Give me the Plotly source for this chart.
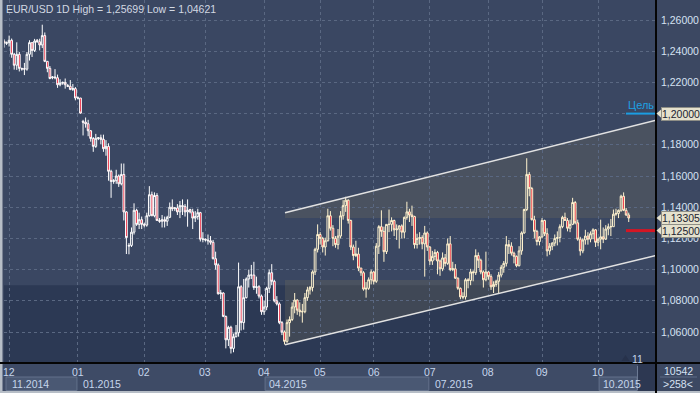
import plotly.graph_objects as go

# ---------------- data (daily EUR/USD bars, Nov 28 2014 .. Oct 19 2015) ----------------
opens = [
    # Nov 28 .. Dec 31
    1.2465, 1.2450, 1.2455, 1.2470, 1.2380, 1.2310, 1.2380, 1.2285, 1.2288, 1.2285, 1.2380, 1.2455, 1.2405, 1.2470, 1.2460,
    1.2440, 1.2500, 1.2335, 1.2290, 1.2230, 1.2235, 1.2230, 1.2185, 1.2195, 1.2200, 1.2180, 1.2175, 1.2155, 1.2160,
    # Jan
    1.2100, 1.2100, 1.1950, 1.1945, 1.1935, 1.1890, 1.1840, 1.1790, 1.1840, 1.1845, 1.1835, 1.1775, 1.1790, 1.1630, 1.1565,
    1.1570, 1.1600, 1.1550, 1.1610, 1.1370, 1.1150, 1.1155, 1.1240, 1.1380, 1.1290, 1.1320,
    # Feb
    1.1290, 1.1285, 1.1345, 1.1480, 1.1345, 1.1475, 1.1315, 1.1310, 1.1320, 1.1310, 1.1335, 1.1400, 1.1390, 1.1395, 1.1370,
    1.1410, 1.1405, 1.1370, 1.1385, 1.1370, 1.1330, 1.1340, 1.1365, 1.1195,
    # Mar
    1.1195, 1.1190, 1.1185, 1.1175, 1.1070, 1.1030, 1.0845, 1.0850, 1.0700, 1.0550, 1.0630, 1.0495, 1.0570, 1.0595, 1.0890,
    1.0660, 1.0820, 1.0940, 1.0965, 1.0965, 1.0885, 1.0890, 1.0830,
    # Apr
    1.0730, 1.0760, 1.0880, 1.0980, 1.0925, 1.0800, 1.0780, 1.0660, 1.0600, 1.0540, 1.0660, 1.0680, 1.0760, 1.0805, 1.0740,
    1.0730, 1.0730, 1.0820, 1.0870, 1.0885, 1.0985, 1.1130,
    # May
    1.1225, 1.1200, 1.1145, 1.1185, 1.1345, 1.1265, 1.1200, 1.1160, 1.1215, 1.1345, 1.1410, 1.1445, 1.1315, 1.1145, 1.1090,
    1.1100, 1.1010, 1.0980, 1.0875, 1.0880, 1.0935,
    # Jun
    1.0985, 1.0925, 1.1150, 1.1275, 1.1245, 1.1115, 1.1290, 1.1290, 1.1315, 1.1255, 1.1260, 1.1280, 1.1240, 1.1335, 1.1370,
    1.1350, 1.1340, 1.1160, 1.1200, 1.1205, 1.1165, 1.1235,
    # Jul
    1.1145, 1.1055, 1.1085, 1.1110, 1.1055, 1.1005, 1.1075, 1.1040, 1.1165, 1.1000, 1.1005, 1.0945, 1.0880, 1.0825, 1.0825,
    1.0935, 1.0930, 1.0985, 1.0980, 1.1090, 1.1060, 1.0985, 1.0935,
    # Aug
    1.0985, 1.0955, 1.0890, 1.0905, 1.0925, 1.0965, 1.1015, 1.1040, 1.1160, 1.1150, 1.1105, 1.1085, 1.1025, 1.1120, 1.1235,
    1.1385, 1.1610, 1.1520, 1.1320, 1.1245, 1.1180,
    # Sep
    1.1210, 1.1315, 1.1230, 1.1120, 1.1150, 1.1170, 1.1200, 1.1205, 1.1275, 1.1335, 1.1315, 1.1265, 1.1290, 1.1430, 1.1300,
    1.1195, 1.1120, 1.1190, 1.1215, 1.1195, 1.1230, 1.1255,
    # Oct
    1.1175, 1.1195, 1.1210, 1.1195, 1.1260, 1.1275, 1.1275, 1.1355, 1.1360, 1.1380, 1.1470, 1.1380, 1.1350,
]
highs = [
    1.2477, 1.2462, 1.2500, 1.2481, 1.2389, 1.2457, 1.2395, 1.2295, 1.2325, 1.2395, 1.2470, 1.2455, 1.2479, 1.2478, 1.2480,
    1.25699, 1.2520, 1.2335, 1.2305, 1.2240, 1.2285, 1.2250, 1.2220, 1.2205, 1.2225, 1.2190, 1.2215, 1.2190, 1.2170,
    1.2110, 1.2100, 1.1960, 1.1975, 1.1960, 1.1895, 1.1850, 1.1870, 1.1850, 1.1865, 1.1865, 1.1830, 1.1810, 1.1640, 1.1580,
    1.1640, 1.1610, 1.1680, 1.1680, 1.1375, 1.1170, 1.1270, 1.1425, 1.1390, 1.1365, 1.1340,
    1.1300, 1.1365, 1.1535, 1.1500, 1.1495, 1.1490, 1.1330, 1.1350, 1.1340, 1.1345, 1.1430, 1.1450, 1.1400, 1.1420, 1.1440,
    1.1450, 1.1420, 1.1450, 1.1390, 1.1390, 1.1375, 1.1390, 1.1370, 1.1240,
    1.1200, 1.1225, 1.1215, 1.1190, 1.1115, 1.1040, 1.0870, 1.0855, 1.0705, 1.0640, 1.0640, 1.0590, 1.0645, 1.1045, 1.0900,
    1.0940, 1.0950, 1.1000, 1.1030, 1.1050, 1.0955, 1.0900, 1.0840,
    1.0800, 1.0890, 1.1000, 1.1035, 1.0935, 1.0830, 1.0790, 1.0670, 1.0610, 1.0680, 1.0700, 1.0790, 1.0850, 1.0810, 1.0790,
    1.0780, 1.0850, 1.0890, 1.0895, 1.0995, 1.1140, 1.1290,
    1.1240, 1.1210, 1.1205, 1.1390, 1.1375, 1.1285, 1.1215, 1.1260, 1.1375, 1.1445, 1.1467, 1.1450, 1.1320, 1.1160, 1.1185,
    1.1140, 1.1010, 1.0990, 1.0920, 1.0950, 1.1000,
    1.0990, 1.1170, 1.1285, 1.1380, 1.1275, 1.1290, 1.1385, 1.1335, 1.1320, 1.1290, 1.1285, 1.1290, 1.1340, 1.1435, 1.1390,
    1.1410, 1.1345, 1.1230, 1.1240, 1.1220, 1.1280, 1.1245,
    1.1150, 1.1120, 1.1130, 1.1120, 1.1065, 1.1110, 1.1100, 1.1200, 1.1215, 1.1050, 1.1035, 1.0950, 1.0885, 1.0855, 1.0945,
    1.0945, 1.1005, 1.0995, 1.1130, 1.1110, 1.1070, 1.0995, 1.1115,
    1.0990, 1.0970, 1.0925, 1.0935, 1.0985, 1.1030, 1.1055, 1.1215, 1.1190, 1.1175, 1.1115, 1.1090, 1.1150, 1.1245, 1.1390,
    1.1714, 1.1625, 1.1530, 1.1345, 1.1255, 1.1215,
    1.1330, 1.1320, 1.1265, 1.1170, 1.1175, 1.1225, 1.1245, 1.1290, 1.1345, 1.1365, 1.1330, 1.1320, 1.1460, 1.1440, 1.1320,
    1.1210, 1.1200, 1.1255, 1.1240, 1.1245, 1.1265, 1.1260,
    1.1205, 1.1320, 1.1270, 1.1285, 1.1295, 1.1325, 1.1385, 1.1390, 1.1385, 1.1480, 1.1495, 1.1395, 1.1365,
]
lows = [
    1.2423, 1.2440, 1.2430, 1.2358, 1.2282, 1.2280, 1.2270, 1.2275, 1.2247, 1.2275, 1.2340, 1.2363, 1.2395, 1.2455, 1.2405,
    1.2420, 1.2330, 1.2265, 1.2220, 1.2220, 1.2220, 1.2165, 1.2175, 1.2185, 1.2160, 1.2170, 1.2150, 1.2145, 1.2085,
    1.2090, 1.2000, 1.1860, 1.1910, 1.1855, 1.1820, 1.1755, 1.1780, 1.1830, 1.1805, 1.1755, 1.1730, 1.1570, 1.1460, 1.1550,
    1.1550, 1.1530, 1.1540, 1.1315, 1.1100, 1.1098, 1.1145, 1.1225, 1.1280, 1.1260, 1.1260,
    1.1270, 1.1275, 1.1340, 1.1345, 1.1335, 1.1315, 1.1300, 1.1270, 1.1270, 1.1280, 1.1330, 1.1375, 1.1375, 1.1350, 1.1330,
    1.1350, 1.1340, 1.1275, 1.1360, 1.1260, 1.1305, 1.1320, 1.1180, 1.1175,
    1.1180, 1.1160, 1.1160, 1.1065, 1.1000, 1.0840, 1.0810, 1.0695, 1.0495, 1.0510, 1.04621, 1.0470, 1.0565, 1.0570, 1.0610,
    1.0615, 1.0815, 1.0885, 1.0940, 1.0870, 1.0845, 1.0815, 1.0710,
    1.0710, 1.0740, 1.0850, 1.0900, 1.0790, 1.0770, 1.0650, 1.0580, 1.0520, 1.0530, 1.0570, 1.0670, 1.0720, 1.0710, 1.0700,
    1.0660, 1.0720, 1.0800, 1.0840, 1.0860, 1.0965, 1.1110,
    1.1160, 1.1110, 1.1090, 1.1180, 1.1250, 1.1150, 1.1140, 1.1130, 1.1200, 1.1320, 1.1370, 1.1295, 1.1125, 1.1060, 1.1080,
    1.0990, 1.0960, 1.0865, 1.0820, 1.0870, 1.0905,
    1.0905, 1.0915, 1.1100, 1.1210, 1.1050, 1.1100, 1.1240, 1.1245, 1.1215, 1.1190, 1.1135, 1.1200, 1.1200, 1.1320, 1.1305,
    1.1280, 1.1135, 1.1135, 1.1160, 1.1130, 1.0955, 1.1120,
    1.1030, 1.1030, 1.1060, 1.0970, 1.0960, 1.0990, 1.1020, 1.1030, 1.0990, 1.0990, 1.0940, 1.0870, 1.0810, 1.0810, 1.0808,
    1.0880, 1.0900, 1.0925, 1.0965, 1.1010, 1.0970, 1.0885, 1.0925,
    1.0935, 1.0870, 1.0850, 1.0890, 1.0850, 1.0950, 1.0980, 1.1020, 1.1100, 1.1090, 1.1040, 1.1015, 1.1020, 1.1095, 1.1230,
    1.1375, 1.1470, 1.1315, 1.1200, 1.1155, 1.1155,
    1.1200, 1.1215, 1.1085, 1.1095, 1.1125, 1.1150, 1.1155, 1.1175, 1.1265, 1.1315, 1.1245, 1.1240, 1.1285, 1.1290, 1.1185,
    1.1090, 1.1105, 1.1160, 1.1160, 1.1175, 1.1195, 1.1145,
    1.1150, 1.1130, 1.1170, 1.1190, 1.1220, 1.1215, 1.1275, 1.1345, 1.1330, 1.1370, 1.1375, 1.1345, 1.1305,
]
closes = [
    1.2453, 1.2455, 1.2470, 1.2380, 1.2310, 1.2380, 1.2290, 1.2288, 1.2285, 1.2380, 1.2455, 1.2405, 1.2465, 1.2460, 1.2440,
    1.2500, 1.2335, 1.2290, 1.2225, 1.2235, 1.2230, 1.2185, 1.2195, 1.2200, 1.2185, 1.2175, 1.2155, 1.2160, 1.2100,
    1.2100, 1.2003, 1.1945, 1.1935, 1.1890, 1.1840, 1.1790, 1.1842, 1.1845, 1.1835, 1.1775, 1.1790, 1.1630, 1.1565, 1.1570,
    1.1600, 1.1550, 1.1610, 1.1370, 1.1205, 1.1155, 1.1240, 1.1380, 1.1290, 1.1320, 1.1290,
    1.1285, 1.1345, 1.1480, 1.1345, 1.1475, 1.1315, 1.1310, 1.1320, 1.1310, 1.1335, 1.1400, 1.1390, 1.1395, 1.1370, 1.1410,
    1.1405, 1.1370, 1.1380, 1.1370, 1.1330, 1.1340, 1.1365, 1.1195, 1.1195,
    1.1190, 1.1185, 1.1175, 1.1070, 1.1030, 1.0845, 1.0850, 1.0700, 1.0550, 1.0630, 1.0495, 1.0570, 1.0595, 1.0890, 1.0660,
    1.0820, 1.0940, 1.0965, 1.0965, 1.0885, 1.0890, 1.0830, 1.0730,
    1.0760, 1.0880, 1.0980, 1.0925, 1.0800, 1.0780, 1.0660, 1.0600, 1.0540, 1.0660, 1.0680, 1.0760, 1.0805, 1.0740, 1.0730,
    1.0730, 1.0820, 1.0870, 1.0885, 1.0985, 1.1130, 1.1225,
    1.1200, 1.1145, 1.1185, 1.1345, 1.1265, 1.1200, 1.1160, 1.1215, 1.1345, 1.1410, 1.1445, 1.1315, 1.1145, 1.1090, 1.1100,
    1.1010, 1.0980, 1.0875, 1.0880, 1.0935, 1.0985,
    1.0925, 1.1150, 1.1275, 1.1245, 1.1115, 1.1290, 1.1290, 1.1315, 1.1255, 1.1260, 1.1280, 1.1240, 1.1335, 1.1370, 1.1350,
    1.1340, 1.1160, 1.1200, 1.1205, 1.1165, 1.1235, 1.1145,
    1.1055, 1.1085, 1.1110, 1.1055, 1.1005, 1.1075, 1.1040, 1.1165, 1.1000, 1.1005, 1.0945, 1.0880, 1.0825, 1.0825, 1.0935,
    1.0930, 1.0985, 1.0980, 1.1090, 1.1060, 1.0985, 1.0935, 1.0985,
    1.0955, 1.0890, 1.0905, 1.0925, 1.0965, 1.1015, 1.1040, 1.1160, 1.1150, 1.1105, 1.1085, 1.1025, 1.1120, 1.1235, 1.1385,
    1.1610, 1.1520, 1.1320, 1.1245, 1.1180, 1.1210,
    1.1315, 1.1230, 1.1120, 1.1150, 1.1170, 1.1200, 1.1205, 1.1275, 1.1335, 1.1315, 1.1265, 1.1290, 1.1430, 1.1300, 1.1195,
    1.1120, 1.1190, 1.1215, 1.1195, 1.1230, 1.1255, 1.1175,
    1.1195, 1.1210, 1.1195, 1.1260, 1.1275, 1.1275, 1.1355, 1.1360, 1.1380, 1.1470, 1.1380, 1.1350, 1.13305,
]
bar_idx = list(range(len(closes)))

month_tick_idx = [2, 29, 55, 79, 102, 124, 145, 167, 190, 211, 233]
month_tick_text = ["12", "01", "02", "03", "04", "05", "06", "07", "08", "09", "10"]
period_start_idx = [0, 29, 102, 167, 233]
period_labels = ["11.2014", "01.2015", "04.2015", "07.2015", "10.2015"]
period_boxed = [True, False, True, False, True]
price_ticks = [1.06, 1.08, 1.10, 1.12, 1.14, 1.16, 1.18, 1.20, 1.22, 1.24, 1.26]

channel_from_bar = 110
channel_x = [110.2, 255.7]
channel_upper = [1.1365, 1.1957]
channel_lower = [1.0518, 1.1090]
zone_split = 1.09
band_top = 1.13305
band_bottom = 1.0933
target_level = 1.20
stop_level = 1.125
last_price = closes[-1]
symbol_text = "EUR/USD 1D"
volume_text = "10542"
bars_text = ">258<"
next_month_text = "11"
target_text = "Цель"

# ---------------- geometry ----------------
W, H = 700, 393
ML, MR, MT, MB = 4, 44, 0, 30
PW, PH = W - ML - MR, H - MT - MB
XR = [0.0, 255.7]
YR = [1.04013, 1.27282]


def fx(px):
    return (px - ML) / PW


def fy(py):
    return (MT + PH - py) / PH


def px_idx(i):
    return ML + (i - XR[0]) / (XR[1] - XR[0]) * PW


def py_price(p):
    return MT + (YR[1] - p) / (YR[1] - YR[0]) * PH


def fmt(v):
    return f"{v:.5f}".replace(".", ",")


FONT = "Liberation Sans Narrow, Liberation Sans, Arial, sans-serif"
GRID = "#5a6882"

fig = go.Figure()


def add_candles(sl, color):
    fig.add_trace(go.Candlestick(
        x=bar_idx[sl], open=opens[sl], high=highs[sl], low=lows[sl], close=closes[sl],
        increasing=dict(line=dict(color=color, width=1), fillcolor="rgba(0,0,0,0)"),
        decreasing=dict(line=dict(color=color, width=1), fillcolor="#e8102a"),
        whiskerwidth=0, showlegend=False, hoverinfo="skip"))


add_candles(slice(0, channel_from_bar), "#ffffff")
add_candles(slice(channel_from_bar, None), "#fff3cf")

shapes = []


def rect_px(x0, y0, x1, y1, fill, line=None, lw=0, layer="below"):
    shapes.append(dict(type="rect", xref="paper", yref="paper",
                       x0=fx(x0), x1=fx(x1), y0=fy(y0), y1=fy(y1),
                       fillcolor=fill, line=dict(color=line or fill, width=lw), layer=layer))


def line_px(x0, y0, x1, y1, color, w, layer="above"):
    shapes.append(dict(type="line", xref="paper", yref="paper",
                       x0=fx(x0), x1=fx(x1), y0=fy(y0), y1=fy(y1),
                       line=dict(color=color, width=w), layer=layer))


# background zones
shapes.append(dict(type="rect", xref="paper", yref="y", x0=0, x1=1, y0=zone_split, y1=YR[1],
                   fillcolor="#3a4762", line=dict(width=0), layer="below"))
shapes.append(dict(type="rect", xref="paper", yref="y", x0=0, x1=1, y0=YR[0], y1=zone_split,
                   fillcolor="#2c3954", line=dict(width=0), layer="below"))

# channel fill (upper and lower parts)
cx0, cx1 = channel_x
u0, u1 = channel_upper
l0, l1 = channel_lower
CH_FILL = "rgba(118,116,92,0.27)"
shapes.append(dict(type="path", xref="x", yref="y",
                   path=f"M {cx0},{u0} L {cx1},{u1} L {cx1},{band_top} L {cx0},{band_top} Z",
                   fillcolor=CH_FILL, line=dict(width=0), layer="below"))
xc = cx0 + (band_bottom - l0) / (l1 - l0) * (cx1 - cx0)
shapes.append(dict(type="path", xref="x", yref="y",
                   path=f"M {cx0},{band_bottom} L {xc},{band_bottom} L {cx0},{l0} Z",
                   fillcolor=CH_FILL, line=dict(width=0), layer="below"))
# channel lines
for a, b in ((u0, u1), (l0, l1)):
    shapes.append(dict(type="line", xref="x", yref="y", x0=cx0, x1=cx1, y0=a, y1=b,
                       line=dict(color="#e2e2e2", width=1.5), layer="above"))

# target / stop lines
shapes.append(dict(type="line", xref="paper", yref="y", x0=fx(626), x1=1, y0=target_level, y1=target_level,
                   line=dict(color="#1b9de2", width=2), layer="above"))
shapes.append(dict(type="line", xref="paper", yref="y", x0=fx(626), x1=1, y0=stop_level, y1=stop_level,
                   line=dict(color="#d41624", width=3), layer="above"))

# bottom axis area
rect_px(0, 363, 656, 391, "#3e4b66")
for k, (s, lab, boxed) in enumerate(zip(period_start_idx, period_labels, period_boxed)):
    x0 = max(px_idx(s) + 1, 6)
    x1 = px_idx(period_start_idx[k + 1]) - 1 if k + 1 < len(period_start_idx) else 637
    if boxed:
        rect_px(x0, 377, x1, 390.5, "#4a5873", line="#63718b", lw=1)
rect_px(638, 364, 655.5, 391, "#2d3852")
line_px(637.5, 366, 637.5, 390, "#6c7a94", 1)
# frame strips
rect_px(0, 0, 2.5, 393, "#b7bec7")
rect_px(0, 391, 700, 393, "#b7bec7")
# black separators
line_px(656, 0, 656, 393, "#050505", 2)
line_px(0, 363, 700, 363, "#050505", 2)
line_px(660, 377, 697, 377, "#5d6b85", 1)

# next-month marker triangle
shapes.append(dict(type="path", xref="paper", yref="paper",
                   path=f"M {fx(625.5)},{fy(355)} L {fx(629.5)},{fy(361)} L {fx(621.5)},{fy(361)} Z",
                   fillcolor="#27324b", line=dict(width=0), layer="above"))

annotations = []
# price label boxes with arrows
for lvl in (target_level, last_price, stop_level):
    py = py_price(lvl)
    shapes.append(dict(type="path", xref="paper", yref="paper",
                       path=f"M {fx(656.5)},{fy(py)} L {fx(662)},{fy(py - 4.8)} L {fx(662)},{fy(py + 4.8)} Z",
                       fillcolor="#e5e1cd", line=dict(width=0), layer="above"))
    annotations.append(dict(xref="paper", yref="paper", x=fx(661), y=fy(py), xanchor="left", yanchor="middle",
                            text=fmt(lvl), showarrow=False, bgcolor="#e5e1cd", bordercolor="#8e8e86",
                            borderwidth=1, borderpad=0,
                            font=dict(family=FONT, size=10.5, color="#1c2330")))

annotations.append(dict(xref="paper", yref="paper", x=fx(641), y=fy(105), xanchor="center", yanchor="middle",
                        text=target_text, showarrow=False,
                        font=dict(family=FONT, size=11, color="#1da1e3")))

title = f"{symbol_text} High = {fmt(max(highs))} Low = {fmt(min(lows))}"
annotations.append(dict(xref="paper", yref="paper", x=fx(4), y=fy(9), xanchor="left", yanchor="middle",
                        text=title, showarrow=False,
                        font=dict(family=FONT, size=10.5, color="#d2d9e3")))

for i, t in zip(month_tick_idx, month_tick_text):
    annotations.append(dict(xref="paper", yref="paper", x=fx(px_idx(i)), y=fy(371.5), xanchor="center",
                            yanchor="middle", text=t, showarrow=False,
                            font=dict(family=FONT, size=10.5, color="#c6d6ec")))
for s, lab in zip(period_start_idx, period_labels):
    annotations.append(dict(xref="paper", yref="paper", x=fx(max(px_idx(s) + 3, 10)), y=fy(384),
                            xanchor="left", yanchor="middle", text=lab, showarrow=False,
                            font=dict(family=FONT, size=10.5, color="#c6d6ec")))

annotations.append(dict(xref="paper", yref="paper", x=fx(637.5), y=fy(358.5), xanchor="center", yanchor="middle",
                        text=next_month_text, showarrow=False,
                        font=dict(family=FONT, size=10.5, color="#c6d6ec")))
annotations.append(dict(xref="paper", yref="paper", x=fx(678), y=fy(370.5), xanchor="center", yanchor="middle",
                        text=volume_text, showarrow=False,
                        font=dict(family=FONT, size=10.5, color="#d6e2f2")))
annotations.append(dict(xref="paper", yref="paper", x=fx(678), y=fy(384), xanchor="center", yanchor="middle",
                        text=bars_text, showarrow=False,
                        font=dict(family=FONT, size=10.5, color="#d6e2f2")))

fig.update_layout(
    width=W, height=H,
    margin=dict(l=ML, r=MR, t=MT, b=MB, pad=0),
    paper_bgcolor="#3c4862", plot_bgcolor="#3a4762",
    showlegend=False, boxgap=0.02,
    xaxis=dict(range=XR, rangeslider=dict(visible=False), showgrid=True, gridcolor=GRID,
               griddash="3px,3px", gridwidth=1, tickmode="array", tickvals=month_tick_idx,
               showticklabels=False, ticks="", zeroline=False, showline=False, fixedrange=True),
    yaxis=dict(side="right", range=YR, tickmode="array", tickvals=price_ticks,
               ticktext=[fmt(v) for v in price_ticks], showgrid=True, gridcolor=GRID,
               griddash="3px,3px", gridwidth=1, ticks="", ticklabelstandoff=4,
               tickfont=dict(family=FONT, size=10.5, color="#d6e2f2"),
               zeroline=False, showline=False, fixedrange=True),
    shapes=shapes, annotations=annotations,
)

fig.write_html("out.html")
